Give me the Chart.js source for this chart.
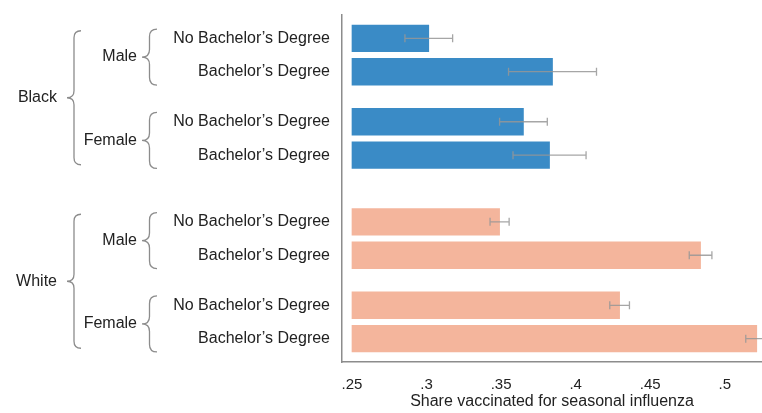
<!DOCTYPE html>
<html lang="en">
<head>
  <meta charset="UTF-8">
  <title>Seasonal influenza vaccination</title>
  <script src="https://cdn.jsdelivr.net/npm/chart.js"></script>
  <style>
    body { margin: 0; background: #fff; }
    #wrap { width: 762px; height: 413px; }
  </style>
</head>
<body>
  <div id="wrap"><canvas id="fluChart" width="762" height="413"></canvas></div>

  <script>
    const races = ['Black', 'White'];
    const sexes = ['Male', 'Female'];
    const degrees = ['No Bachelor’s Degree', 'Bachelor’s Degree'];
    // share vaccinated, ordered race > sex > degree
    const shares = [0.3015, 0.3845, 0.365, 0.3825, 0.349, 0.4838, 0.4295, 0.5215];
    const errors = [0.016, 0.0295, 0.016, 0.0245, 0.0064, 0.0076, 0.0066, 0.0074];
    const xTicks = [0.25, 0.3, 0.35, 0.4, 0.45, 0.5];
    const raceColors = ['#3a8bc6', '#f4b59c'];

    const FONT = '"Liberation Sans", Arial, sans-serif';
    const TEXT = '#222';
    const LINE = '#8c8c8c';

    // one row per bar: half-row gap between sexes, a full row between races
    const rows = [];
    let pos = 0;
    races.forEach((race, r) => {
      sexes.forEach((sex, s) => {
        degrees.forEach((deg, d) => {
          rows.push({ race: r, sex: s, deg: d, y: pos });
          pos += 1;
        });
        pos += 0.5;
      });
      pos += 0.5;
    });

    function drawBrace(ctx, xTip, yTop, yBottom, w) {
      const xm = xTip + w * 0.5;
      const mid = (yTop + yBottom) / 2;
      const r = w * 0.5;
      ctx.beginPath();
      ctx.moveTo(xTip + w, yTop);
      ctx.quadraticCurveTo(xm, yTop, xm, yTop + r);
      ctx.lineTo(xm, mid - r);
      ctx.quadraticCurveTo(xm, mid, xTip, mid);
      ctx.quadraticCurveTo(xm, mid, xm, mid + r);
      ctx.lineTo(xm, yBottom - r);
      ctx.quadraticCurveTo(xm, yBottom, xTip + w, yBottom);
      ctx.stroke();
    }

    // sex and race labels with their braces, left of the degree labels
    const groupLabels = {
      id: 'groupLabels',
      afterDraw(chart) {
        const { ctx } = chart;
        const y = chart.scales.y;
        ctx.save();
        ctx.font = '16px ' + FONT;
        ctx.fillStyle = TEXT;
        ctx.strokeStyle = LINE;
        ctx.lineWidth = 1.3;
        ctx.textAlign = 'right';
        ctx.textBaseline = 'middle';
        races.forEach((race, r) => {
          const raceRows = rows.filter(row => row.race === r);
          const rTop = y.getPixelForValue(raceRows[0].y);
          const rBot = y.getPixelForValue(raceRows[raceRows.length - 1].y);
          const rMid = (rTop + rBot) / 2 + 1;
          ctx.fillText(race, 57, rMid);
          drawBrace(ctx, 67, rMid - 67, rMid + 67, 14);

          sexes.forEach((sex, s) => {
            const sexRows = raceRows.filter(row => row.sex === s);
            const top = y.getPixelForValue(sexRows[0].y);
            const bot = y.getPixelForValue(sexRows[sexRows.length - 1].y);
            const mid = (top + bot) / 2 + 2;
            ctx.fillText(sex, 137, mid);
            drawBrace(ctx, 142, mid - 28, mid + 28, 15);
          });
        });
        ctx.restore();
      }
    };

    // confidence whiskers on top of each bar
    const errorBars = {
      id: 'errorBars',
      afterDatasetsDraw(chart) {
        const { ctx } = chart;
        const x = chart.scales.x;
        const bars = chart.getDatasetMeta(0).data;
        ctx.save();
        ctx.strokeStyle = 'rgba(150,150,150,0.85)';
        ctx.lineWidth = 1.3;
        bars.forEach((bar, i) => {
          const x1 = x.getPixelForValue(shares[i] - errors[i]);
          const x2 = x.getPixelForValue(shares[i] + errors[i]);
          const yc = bar.y;
          ctx.beginPath();
          ctx.moveTo(x1, yc);
          ctx.lineTo(x2, yc);
          ctx.moveTo(x1, yc - 4);
          ctx.lineTo(x1, yc + 4);
          ctx.moveTo(x2, yc - 4);
          ctx.lineTo(x2, yc + 4);
          ctx.stroke();
        });
        ctx.restore();
      }
    };

    new Chart(document.getElementById('fluChart'), {
      type: 'bar',
      data: {
        datasets: [{
          data: rows.map((row, i) => ({ x: [xTicks[0], shares[i]], y: row.y })),
          backgroundColor: rows.map(row => raceColors[row.race]),
          borderWidth: 0,
          barThickness: 26.7
        }]
      },
      options: {
        indexAxis: 'y',
        responsive: false,
        animation: false,
        layout: { padding: { top: 15, right: 0, bottom: 0, left: 0 } },
        plugins: {
          legend: { display: false },
          tooltip: { enabled: false }
        },
        scales: {
          x: {
            type: 'linear',
            min: 0.2433,
            max: 0.525,
            afterBuildTicks: scale => { scale.ticks = xTicks.map(v => ({ value: v })); },
            afterFit: scale => {
              scale.height = 51;
              scale.paddingLeft = 0;
              scale.paddingRight = 0;
            },
            grid: { display: false, drawTicks: false },
            border: { display: true, color: LINE, width: 1.5 },
            ticks: {
              autoSkip: false,
              maxRotation: 0,
              padding: 14,
              color: TEXT,
              font: { family: FONT, size: 15, lineHeight: 1.2 },
              callback: v => String(+v.toFixed(2)).replace(/^0/, '')
            },
            title: {
              display: true,
              text: 'Share vaccinated for seasonal influenza',
              color: TEXT,
              font: { family: FONT, size: 16, lineHeight: 1.2 },
              padding: { top: 0, bottom: 2 }
            }
          },
          y: {
            type: 'linear',
            reverse: true,
            offset: false,
            min: -0.7,
            max: 9.7,
            afterBuildTicks: scale => { scale.ticks = rows.map(row => ({ value: row.y })); },
            afterFit: scale => {
              scale.width = 342;
              scale.paddingTop = 0;
              scale.paddingBottom = 0;
            },
            grid: { display: false, drawTicks: false, offset: false },
            border: { display: true, color: LINE, width: 1.5 },
            ticks: {
              autoSkip: false,
              padding: 12,
              color: TEXT,
              font: { family: FONT, size: 16 },
              callback: (v, i) => degrees[rows[i].deg]
            }
          }
        }
      },
      plugins: [groupLabels, errorBars]
    });
  </script>
</body>
</html>
